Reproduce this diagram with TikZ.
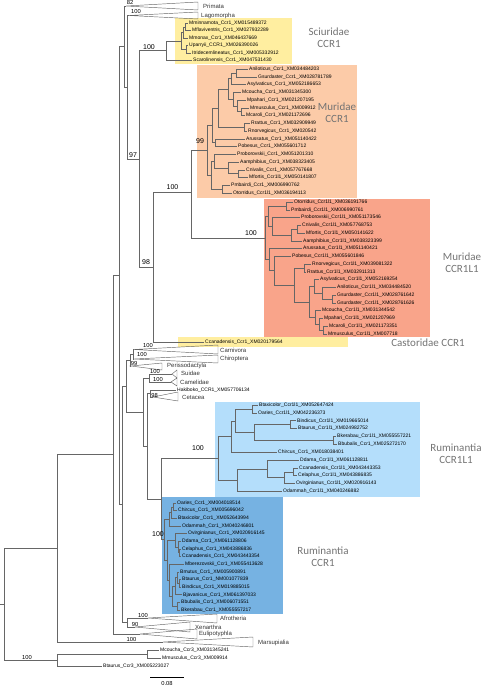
\documentclass[tikz,border=0pt]{standalone}
\usepackage{fontspec}
\setmainfont{Liberation Sans}
\newfontfamily\carlito{Carlito}
\definecolor{jaune}{RGB}{255,238,160}
\definecolor{peche}{RGB}{252,203,168}
\definecolor{saumon}{RGB}{249,164,138}
\definecolor{bleuclair}{RGB}{180,222,251}
\definecolor{bleu}{RGB}{118,178,226}
\begin{document}
\begin{tikzpicture}[x=1pt,y=-1pt]
	\tikzstyle{branche}=[draw=black!60, line width=0.45pt]
	\tikzstyle{repli}=[draw=black!60, line width=0.45pt]
	\tikzstyle{feuille}=[anchor=west, inner xsep=1pt, inner ysep=0pt, font=\fontsize{5}{6}\selectfont]
	\tikzstyle{clade}=[anchor=west, inner sep=0pt, font=\fontsize{6}{7}\selectfont, text=black!80]
	\tikzstyle{boot}=[inner sep=0pt, font=\fontsize{5.8}{6}\selectfont]
	\tikzstyle{boot_gros}=[inner sep=0pt, font=\fontsize{7}{8}\selectfont]
	\tikzstyle{groupe}=[align=center, text=black!55, font=\carlito\fontsize{11}{12}\selectfont]
	\useasboundingbox (0,0) rectangle (482,685);
	% fonds colores
	\fill[jaune] (175,18) rectangle (292,64);
	\fill[peche] (197,65) rectangle (357,198);
	\fill[saumon] (264,199) rectangle (430,337);
	\fill[jaune] (178,337) rectangle (348,347);
	\fill[bleuclair] (215,402) rectangle (420,497);
	\fill[bleu] (162,497) rectangle (283,614);
	% noeuds internes
	\coordinate (root) at (4,604.2);
	\coordinate (ingroup) at (57,548.35);
	\coordinate (euth) at (113,454.7);
	\coordinate (eutha) at (119,275.4);
	\coordinate (euarch) at (124,46.5);
	\coordinate (glires) at (127,87.5);
	\coordinate (rodent) at (139,159);
	\coordinate (sa) at (185,26.75);
	\coordinate (sb) at (183,32.4);
	\coordinate (sc) at (186,49.25);
	\coordinate (sd) at (181,40.8);
	\coordinate (sciur) at (166,50.65);
	\coordinate (murcast) at (153,267);
	\coordinate (muridae) at (191,192);
	\coordinate (m1ag) at (236,72.9);
	\coordinate (m1aga) at (231,78.7);
	\coordinate (m1mm) at (241,111.6);
	\coordinate (m1pmm) at (237,105.8);
	\coordinate (m1cpmm) at (233,99);
	\coordinate (m1musg) at (228,88.9);
	\coordinate (m1rr) at (244,127.1);
	\coordinate (m1murinae) at (218,108);
	\coordinate (m1ap) at (215,142.6);
	\coordinate (m1a) at (212,125.3);
	\coordinate (m1cm) at (238,173.6);
	\coordinate (m1acm) at (228,167.8);
	\coordinate (m1pacm) at (214,161);
	\coordinate (m1po) at (222,189.1);
	\coordinate (m1b) at (211,175.1);
	\coordinate (mur1) at (207,150.2);
	\coordinate (l1op) at (286,205.9);
	\coordinate (l1cm) at (297,229.2);
	\coordinate (l1acm) at (291,235);
	\coordinate (l1pacm) at (272,226.3);
	\coordinate (l1cric) at (268,216.1);
	\coordinate (l1rr) at (304,268);
	\coordinate (l1gg) at (332,299);
	\coordinate (l1agg) at (322,293.2);
	\coordinate (l1aagg) at (314,286.4);
	\coordinate (l1mm) at (323,330);
	\coordinate (l1pmm) at (319,324.2);
	\coordinate (l1cpmm) at (315,317.4);
	\coordinate (l1musg) at (309,301.9);
	\coordinate (l1murinae) at (294,285);
	\coordinate (l1pm) at (274,270.6);
	\coordinate (l1apm) at (269,259.6);
	\coordinate (murl1) at (265,237.9);
	\coordinate (boreo) at (122,504.25);
	\coordinate (laur) at (126,386);
	\coordinate (n99) at (130,360.1);
	\coordinate (fer) at (133,354.25);
	\coordinate (cet) at (143,412);
	\coordinate (sc2) at (149,378);
	\coordinate (wr) at (147,446);
	\coordinate (whippo) at (150,393.5);
	\coordinate (rum) at (161,499);
	\coordinate (rlbo) at (252,409);
	\coordinate (rlbb) at (290,424.7);
	\coordinate (rlbk) at (333,440.4);
	\coordinate (rlbovini) at (254,432.5);
	\coordinate (rlx) at (235,420.8);
	\coordinate (rlbov) at (231,436.4);
	\coordinate (rlcc) at (293,471.8);
	\coordinate (rlcco) at (284,477.6);
	\coordinate (rldcco) at (267,468.8);
	\coordinate (rlcerv) at (237,480.1);
	\coordinate (rumL1) at (218,458.3);
	\coordinate (rcoc) at (173,506.8);
	\coordinate (rcocb) at (171,512.5);
	\coordinate (rccapr) at (169,519.2);
	\coordinate (rccecc) at (179,552.6);
	\coordinate (rcdce) at (178,546.9);
	\coordinate (rcovd) at (175,540.3);
	\coordinate (rcti) at (179,583.2);
	\coordinate (rcmti) at (177,577.5);
	\coordinate (rcmtij) at (175,586.1);
	\coordinate (rcbuk) at (177,606.2);
	\coordinate (rcbovini) at (172,596.1);
	\coordinate (rcmb) at (169,580.1);
	\coordinate (rccervmb) at (167,560.2);
	\coordinate (rumc) at (164,539.7);
	\coordinate (atlanto) at (127,622.5);
	\coordinate (ccr3) at (57,660);
	\coordinate (mm3) at (147,654);
	% sommets des triangles
	\coordinate (primata) at (126,6);
	\coordinate (lagomorpha) at (129,15.5);
	\coordinate (carnivora) at (134,349.5);
	\coordinate (chiroptera) at (134,359);
	\coordinate (perisso) at (131,366);
	\coordinate (suidae) at (172,374);
	\coordinate (camelidae) at (171,382);
	\coordinate (cetacea) at (153,397);
	\coordinate (afro) at (148,618);
	\coordinate (xen) at (135,627);
	\coordinate (euli) at (140,634);
	\coordinate (mars) at (163,642);
	% Sciuridae
	\node[feuille] (mminn) at (188,23) {Mminnamota\_Ccr1\_XM015489372};
	\node[feuille] (mflav) at (191,30.5) {Mflaviventris\_Ccr1\_XM027932289};
	\node[feuille] (mmonax) at (188,38) {Mmonax\_Ccr1\_XM046437669};
	\node[feuille] (uparryii) at (188,45.5) {Uparryii\_CCR1\_XM026390026};
	\node[feuille] (itrid) at (191,53) {Itridecemlineatus\_Ccr1\_XM005332912};
	\node[feuille] (scaro) at (192,60.5) {Scarolinensis\_Ccr1\_XM047531430};
	% Muridae CCR1
	\node[feuille] (m1anil) at (248,69) {Aniloticus\_Ccr1\_XM034484203};
	\node[feuille] (m1gsur) at (257,76.75) {Gsurdaster\_Ccr1\_XM028781789};
	\node[feuille] (m1asyl) at (246,84.5) {Asylvaticus\_Ccr1\_XM052186653};
	\node[feuille] (m1mcou) at (241,92.25) {Mcoucha\_Ccr1\_XM031345300};
	\node[feuille] (m1mpah) at (246,100) {Mpahari\_Ccr1\_XM021207195};
	\node[feuille] (m1mmus) at (249,107.75) {Mmusculus\_Ccr1\_XM009912};
	\node[feuille] (m1mcar) at (245,115.5) {Mcaroli\_Ccr1\_XM021172696};
	\node[feuille] (m1rrat) at (250,123.25) {Rrattus\_Ccr1\_XM032909949};
	\node[feuille] (m1rnor) at (247,131) {Rnorvegicus\_Ccr1\_XM020542};
	\node[feuille] (m1arus) at (245,138.75) {Arussatus\_Ccr1\_XM051140422};
	\node[feuille] (m1pobe) at (237,146.5) {Pobesus\_Ccr1\_XM055601712};
	\node[feuille] (m1prob) at (236,154.25) {Proborovskii\_Ccr1\_XM051201310};
	\node[feuille] (m1aamp) at (239,162) {Aamphibius\_Ccr1\_XM038323405};
	\node[feuille] (m1cniv) at (245,169.75) {Cnivalis\_Ccr1\_XM057767668};
	\node[feuille] (m1mfor) at (248,177.5) {Mfortis\_Ccr1l1\_XM050141807};
	\node[feuille] (m1pmba) at (230,185.25) {Pmbairdi\_Ccr1\_XM006990762};
	\node[feuille] (m1otor) at (232,193) {Otorridus\_Ccr1l1\_XM036194113};
	% Muridae CCR1L1
	\node[feuille] (l1otor) at (293,202) {Otorridus\_Ccr1l1\_XM036191766};
	\node[feuille] (l1pmba) at (290,209.8) {Pmbairdi\_Ccr1l1\_XM006990761};
	\node[feuille] (l1prob) at (300,217.5) {Proborovskii\_Ccr1l1\_XM051173546};
	\node[feuille] (l1cniv) at (301,225.3) {Cnivalis\_Ccr1l1\_XM057768753};
	\node[feuille] (l1mfor) at (305,233) {Mfortis\_Ccr1l1\_XM050141622};
	\node[feuille] (l1aamp) at (302,240.8) {Aamphibius\_Ccr1l1\_XM038323399};
	\node[feuille] (l1arus) at (302,248.6) {Arussatus\_Ccr1l1\_XM051140421};
	\node[feuille] (l1pobe) at (291,256.3) {Pobesus\_Ccr1l1\_XM055601846};
	\node[feuille] (l1rnor) at (311,264.1) {Rnorvegicus\_Ccr1l1\_XM039081322};
	\node[feuille] (l1rrat) at (306,271.8) {Rrattus\_Ccr1l1\_XM032911313};
	\node[feuille] (l1asyl) at (319,279.6) {Asylvaticus\_Ccr1l1\_XM052169254};
	\node[feuille] (l1anil) at (336,287.4) {Aniloticus\_Ccr1l1\_XM034484520};
	\node[feuille] (l1gsua) at (336,295.1) {Gsurdaster\_Ccr1l1\_XM028761642};
	\node[feuille] (l1gsub) at (336,302.9) {Gsurdaster\_Ccr1l1\_XM028761626};
	\node[feuille] (l1mcou) at (321,310.6) {Mcoucha\_Ccr1l1\_XM031344542};
	\node[feuille] (l1mpah) at (323,318.4) {Mpahari\_Ccr1l1\_XM021207969};
	\node[feuille] (l1mcar) at (328,326.2) {Mcaroli\_Ccr1l1\_XM021173351};
	\node[feuille] (l1mmus) at (327,333.9) {Mmusculus\_Ccr1l1\_XM007718};
	% Castoridae
	\node[feuille] (castor) at (204,342) {Ccanadensis\_Ccr1\_XM020179564};
	\node[feuille] (hakiboko) at (176,390) {Hakiboko\_CCR1\_XM057706134};
	% Ruminantia CCR1L1
	\node[feuille] (rlbtax) at (258,405) {Btaxicolor\_Ccr1l1\_XM052647424};
	\node[feuille] (rloari) at (257,412.9) {Oaries\_Ccr1l1\_XM042236373};
	\node[feuille] (rlbind) at (296,420.7) {Bindicus\_Ccr1l1\_XM019665014};
	\node[feuille] (rlbtau) at (297,428.6) {Btaurus\_Ccr1l1\_XM024982752};
	\node[feuille] (rlbker) at (336,436.4) {Bkerabau\_Ccr1l1\_XM055557221};
	\node[feuille] (rlbbub) at (337,444.3) {Bbubalis\_Ccr1\_XM025272170};
	\node[feuille] (rlchir) at (277,452.1) {Chircus\_Ccr1\_XM018038401};
	\node[feuille] (rlddam) at (299,460) {Ddama\_Ccr1l1\_XM061128811};
	\node[feuille] (rlccan) at (298,467.8) {Ccanadensis\_Ccr1l1\_XM043443353};
	\node[feuille] (rlcela) at (297,475.7) {Celaphus\_Ccr1l1\_XM043886835};
	\node[feuille] (rlovir) at (295,483.5) {Ovirginianus\_Ccr1l1\_XM020916143};
	\node[feuille] (rlodam) at (282,491.4) {Odammah\_Ccr1l1\_XM040246882};
	% Ruminantia CCR1
	\node[feuille] (rcoari) at (176,503) {Oaries\_Ccr1\_XM004018514};
	\node[feuille] (rcchir) at (177,510.6) {Chircus\_Ccr1\_XM005696042};
	\node[feuille] (rcbtax) at (177,518.3) {Btaxicolor\_Ccr1\_XM052643994};
	\node[feuille] (rcodam) at (181,525.9) {Odammah\_Ccr1\_XM040246801};
	\node[feuille] (rcovir) at (187,533.6) {Ovirginianus\_Ccr1\_XM020916145};
	\node[feuille] (rcddam) at (181,541.2) {Ddama\_Ccr1\_XM061128806};
	\node[feuille] (rccela) at (181,548.8) {Celaphus\_Ccr1\_XM043886836};
	\node[feuille] (rcccan) at (181,556.5) {Ccanadensis\_Ccr1\_XM043443354};
	\node[feuille] (rcmber) at (184,564.1) {Mberezovskii\_Ccr1\_XM055413628};
	\node[feuille] (rcbmut) at (179,571.8) {Bmutus\_Ccr1\_XM005900891};
	\node[feuille] (rcbtau) at (181,579.4) {Btaurus\_Ccr1\_NM001077839};
	\node[feuille] (rcbind) at (181,587) {Bindicus\_Ccr1\_XM019885015};
	\node[feuille] (rcbjav) at (182,594.7) {Bjavanicus\_Ccr1\_XM061397033};
	\node[feuille] (rcbbub) at (180,602.3) {Bbubalis\_Ccr1\_XM006071551};
	\node[feuille] (rcbker) at (180,610) {Bkerabau\_Ccr1\_XM055557217};
	% Ccr3
	\node[feuille] (mcou3) at (159,650) {Mcoucha\_Ccr3\_XM031345241};
	\node[feuille] (mmus3) at (161,658) {Mmusculus\_Ccr3\_XM009914};
	\node[feuille] (btau3) at (102,666) {Btaurus\_Ccr3\_XM005223027};
	% branches
	\draw[branche] (root) -- ++(-4,0);
	\foreach \p/\c in {root/ingroup, root/ccr3, ingroup/euth, ingroup/mars, euth/eutha, euth/euli,
		eutha/euarch, eutha/boreo, euarch/primata, euarch/glires, glires/lagomorpha, glires/rodent,
		rodent/sciur, rodent/murcast, ccr3/mm3, ccr3/btau3, mm3/mcou3, mm3/mmus3}
		\draw[branche] (\p) |- (\c);
	\foreach \p/\c in {sciur/sd, sciur/scaro, sd/sb, sd/sc, sb/sa, sb/mmonax, sa/mminn, sa/mflav,
		sc/uparryii, sc/itrid, murcast/muridae, murcast/castor, muridae/mur1, muridae/murl1}
		\draw[branche] (\p) |- (\c);
	\foreach \p/\c in {mur1/m1a, mur1/m1b, m1a/m1murinae, m1a/m1ap, m1ap/m1arus, m1ap/m1pobe,
		m1murinae/m1musg, m1murinae/m1rr, m1rr/m1rrat, m1rr/m1rnor, m1musg/m1aga, m1musg/m1cpmm,
		m1aga/m1ag, m1aga/m1asyl, m1ag/m1anil, m1ag/m1gsur, m1cpmm/m1mcou, m1cpmm/m1pmm,
		m1pmm/m1mpah, m1pmm/m1mm, m1mm/m1mmus, m1mm/m1mcar, m1b/m1pacm, m1b/m1po,
		m1pacm/m1prob, m1pacm/m1acm, m1acm/m1aamp, m1acm/m1cm, m1cm/m1cniv, m1cm/m1mfor,
		m1po/m1pmba, m1po/m1otor}
		\draw[branche] (\p) |- (\c);
	\foreach \p/\c in {murl1/l1cric, murl1/l1apm, l1cric/l1op, l1cric/l1pacm, l1op/l1otor, l1op/l1pmba,
		l1pacm/l1prob, l1pacm/l1acm, l1acm/l1aamp, l1acm/l1cm, l1cm/l1cniv, l1cm/l1mfor,
		l1apm/l1arus, l1apm/l1pm, l1pm/l1pobe, l1pm/l1murinae, l1murinae/l1rr, l1murinae/l1musg,
		l1rr/l1rnor, l1rr/l1rrat, l1musg/l1aagg, l1musg/l1cpmm, l1aagg/l1asyl, l1aagg/l1agg,
		l1agg/l1anil, l1agg/l1gg, l1gg/l1gsua, l1gg/l1gsub, l1cpmm/l1mcou, l1cpmm/l1pmm,
		l1pmm/l1mpah, l1pmm/l1mm, l1mm/l1mcar, l1mm/l1mmus}
		\draw[branche] (\p) |- (\c);
	\foreach \p/\c in {boreo/laur, boreo/atlanto, atlanto/afro, atlanto/xen, laur/n99, laur/cet,
		n99/fer, n99/perisso, fer/carnivora, fer/chiroptera, cet/sc2, cet/wr, sc2/suidae, sc2/camelidae,
		wr/whippo, wr/rum, whippo/hakiboko, whippo/cetacea, rum/rumL1, rum/rumc}
		\draw[branche] (\p) |- (\c);
	\foreach \p/\c in {rumL1/rlbov, rumL1/rlcerv, rlbov/rlx, rlbov/rlchir, rlx/rlbo, rlx/rlbovini,
		rlbo/rlbtax, rlbo/rloari, rlbovini/rlbb, rlbovini/rlbk, rlbb/rlbind, rlbb/rlbtau,
		rlbk/rlbker, rlbk/rlbbub, rlcerv/rldcco, rlcerv/rlodam, rldcco/rlddam, rldcco/rlcco,
		rlcco/rlcc, rlcco/rlovir, rlcc/rlccan, rlcc/rlcela}
		\draw[branche] (\p) |- (\c);
	\foreach \p/\c in {rumc/rccapr, rumc/rccervmb, rccapr/rcocb, rccapr/rcodam, rcocb/rcoc, rcocb/rcbtax,
		rcoc/rcoari, rcoc/rcchir, rccervmb/rcovd, rccervmb/rcmb, rcovd/rcovir, rcovd/rcdce,
		rcdce/rcddam, rcdce/rccecc, rccecc/rccela, rccecc/rcccan, rcmb/rcmber, rcmb/rcbovini,
		rcbovini/rcmtij, rcbovini/rcbuk, rcmtij/rcmti, rcmtij/rcbjav, rcmti/rcbmut, rcmti/rcti,
		rcti/rcbtau, rcti/rcbind, rcbuk/rcbbub, rcbuk/rcbker}
		\draw[branche] (\p) |- (\c);
	% clades replies
	\draw[repli] (primata) -- (198,2) -- (198,10) -- cycle;
	\draw[repli] (lagomorpha) -- (198,12) -- (198,19) -- cycle;
	\draw[repli] (carnivora) -- (218,345) -- (218,354) -- cycle;
	\draw[repli] (chiroptera) -- (218,355) -- (218,363) -- cycle;
	\draw[repli] (perisso) -- (162,363) -- (162,370) -- cycle;
	\draw[repli] (suidae) -- (177,370) -- (177,378) -- cycle;
	\draw[repli] (camelidae) -- (177,378) -- (177,386) -- cycle;
	\draw[repli] (cetacea) -- (178,392) -- (178,401) -- cycle;
	\draw[repli] (afro) -- (217,614) -- (217,623) -- cycle;
	\draw[repli] (xen) -- (190,622) -- (190,632) -- cycle;
	\draw[repli] (euli) -- (197,629) -- (197,639) -- cycle;
	\draw[repli] (mars) -- (253,637) -- (253,647) -- cycle;
	\node[clade] (tprimata) at (203,6) {Primata};
	\node[clade] (tlagomorpha) at (201,15.5) {Lagomorpha};
	\node[clade] (tcarnivora) at (220,350) {Carnivora};
	\node[clade] (tchiroptera) at (220,359) {Chiroptera};
	\node[clade] (tperisso) at (167,366) {Perissodactyla};
	\node[clade] (tsuidae) at (181,373) {Suidae};
	\node[clade] (tcamelidae) at (180,382) {Camelidae};
	\node[clade] (tcetacea) at (182,397.5) {Cetacea};
	\node[clade] (tafro) at (220,618) {Afrotheria};
	\node[clade] (txen) at (195,627) {Xenarthra};
	\node[clade] (teuli) at (199,634) {Eulipotyphla};
	\node[clade] (tmars) at (258,643) {Marsupialia};
	% valeurs de bootstrap
	\node[boot] (bprimata) at (130,3) {82};
	\node[boot] (blagomorpha) at (136,11.5) {100};
	\node[boot_gros] (bsciur) at (149,47) {100};
	\node[boot_gros] (bmur1) at (200,141) {99};
	\node[boot_gros] (brodent) at (133,155) {97};
	\node[boot_gros] (bmuridae) at (172.5,187) {100};
	\node[boot_gros] (bmurl1) at (251,233) {100};
	\node[boot_gros] (bmurcast) at (146,262.5) {98};
	\node[boot] (bcarnivora) at (148,345.5) {100};
	\node[boot] (bchiroptera) at (142,354.5) {100};
	\node[boot] (bn99) at (134,363) {99};
	\node[boot] (bsuidae) at (155,371.5) {100};
	\node[boot] (bcamelidae) at (158,379.5) {100};
	\node[boot] (bcetacea) at (154.5,395) {98};
	\node[boot_gros] (brumL1) at (198,448.5) {100};
	\node[boot_gros] (brumc) at (158,534) {100};
	\node[boot] (bafro) at (143,615) {100};
	\node[boot] (bxen) at (135,624.5) {90};
	\node[boot] (bmars) at (131.5,639) {100};
	\node[boot] (bccr3) at (27,657) {100};
	% groupes de genes
	\node[groupe] (gsciur) at (329,37.5) {Sciuridae\\CCR1};
	\node[groupe] (gmur1) at (337,113) {Muridae\\CCR1};
	\node[groupe] (gmurl1) at (462,263) {Muridae\\CCR1L1};
	\node[groupe] (gcastor) at (428,343) {Castoridae CCR1};
	\node[groupe] (grumL1) at (456,453.5) {Ruminantia\\CCR1L1};
	\node[groupe] (grumc) at (323,556.5) {Ruminantia\\CCR1};
	% echelle
	\coordinate (echelleg) at (150,677);
	\coordinate (echelled) at (184,677);
	\draw[line width=0.8pt] (echelleg) -- (echelled);
	\node[boot] (techelle) at (167,683) {0.08};
\end{tikzpicture}
\end{document}
